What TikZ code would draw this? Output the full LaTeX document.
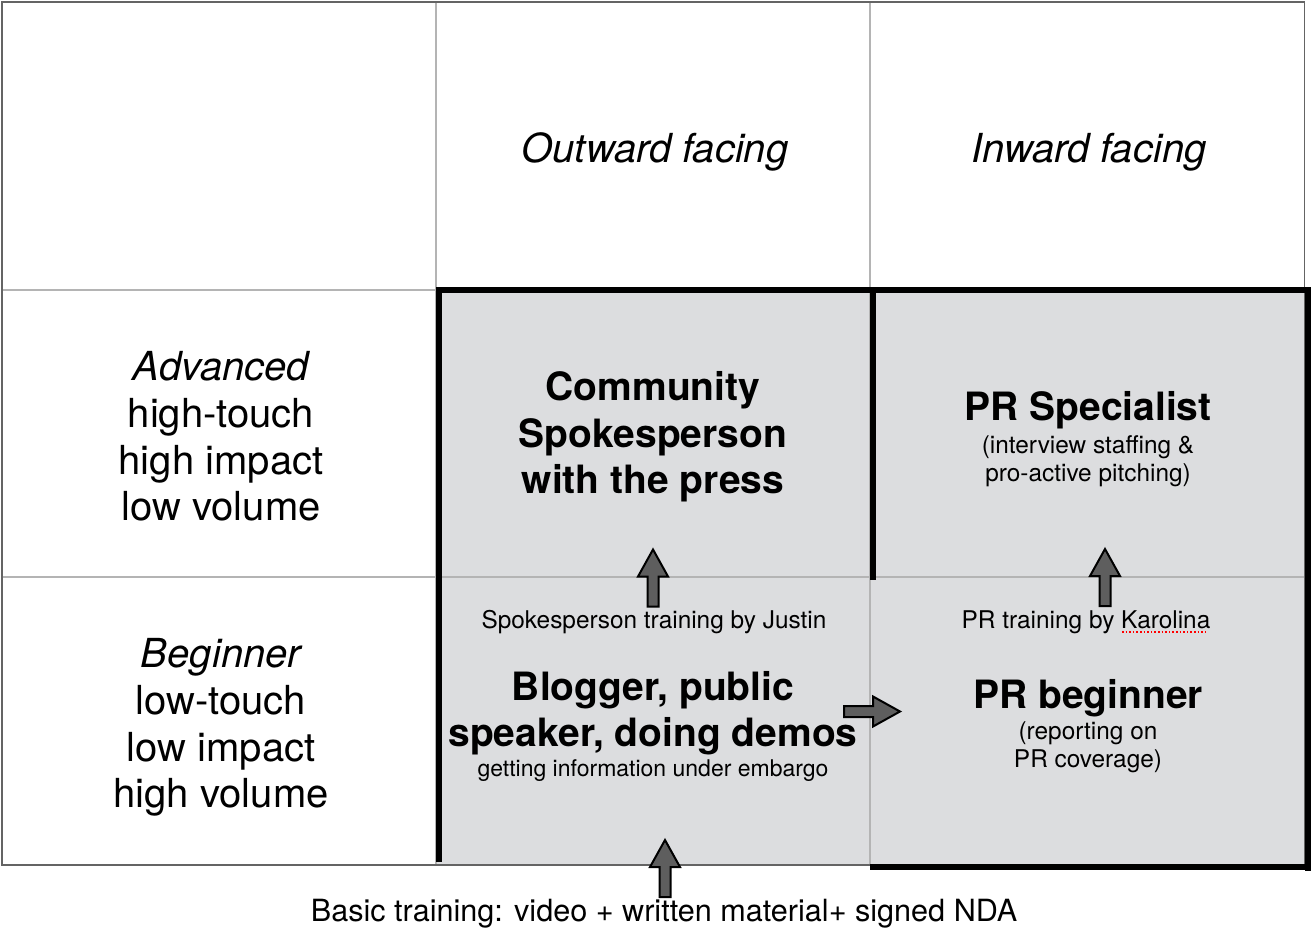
\documentclass[tikz,border=0pt]{standalone}
\usepackage{fontspec}
\setmainfont{TeX Gyre Heros}
\definecolor{cellgrey}{HTML}{DCDDDF}
\definecolor{arrowgrey}{HTML}{5E5E5E}
\definecolor{gridgrey}{HTML}{B4B4B4}
\definecolor{bordergrey}{HTML}{646464}
\newcommand\fsBig{\fontsize{40}{47}\selectfont}
\newcommand\fsBold{\fontsize{39}{46}\selectfont}
\newcommand\fsSmall{\fontsize{24.4}{29}\selectfont}
\newcommand\fsTiny{\fontsize{23}{27}\selectfont}
\newcommand\fsFoot{\fontsize{30.6}{36}\selectfont}
\begin{document}
\begin{tikzpicture}[x=1pt,y=-1pt,
  txt/.style={anchor=base,inner sep=0pt,text=black},
  bigtxt/.style={txt,font=\fsBig},
  bigit/.style={txt,font=\fsBig\itshape},
  bigbf/.style={txt,font=\fsBold\bfseries},
  smalltxt/.style={txt,font=\fsSmall},
  tinytxt/.style={txt,font=\fsTiny},
  foottxt/.style={txt,font=\fsFoot},
  gridline/.style={draw=gridgrey,line width=1.1pt},
  borderline/.style={draw=bordergrey,line width=1.3pt},
  thickline/.style={draw=black,line width=6pt,line cap=butt},
  blockarrow/.style={fill=arrowgrey,draw=black,line width=2pt,line join=miter},
  uparrow/.pic={\path[blockarrow] (0,0) -- (15,27) -- (5.5,27) -- (5.5,57) -- (-5.5,57) -- (-5.5,27) -- (-15,27) -- cycle;},
  rightarrow/.pic={\path[blockarrow] (0,0) -- (-27,-15) -- (-27,-5.5) -- (-56,-5.5) -- (-56,5.5) -- (-27,5.5) -- (-27,15) -- cycle;}
]
\useasboundingbox (0,0) rectangle (1316,934);
\fill[white] (0,0) rectangle (1316,934);

% grey cells
\fill[cellgrey] (436,290) rectangle (1308,866);

% thin grid
\draw[gridline] (436,2) -- (436,865);
\draw[gridline] (870,2) -- (870,865);
\draw[gridline] (2,290) -- (1304.5,290);
\draw[gridline] (2,577) -- (1304.5,577);
\draw[borderline] (2,2) rectangle (1304.5,865);

% thick outlines
\draw[thickline] (439,287) -- (439,862);
\draw[thickline] (436,289.7) -- (1311,289.7);
\draw[thickline] (1308,287) -- (1308,870.5);
\draw[thickline] (873,290) -- (873,580);
\draw[thickline] (870,867.3) -- (1311,867.3);

% arrows
\pic (arrA) at (653,549.5) {uparrow};
\pic (arrB) at (1105,549) {uparrow};
\pic (arrC) at (665,840) {uparrow};
\pic (arrD) at (900,711.5) {rightarrow};

% column headers
\node[bigit] (outw) at (655,162) {Outward facing};
\node[bigit] (inw) at (1089,162) {Inward facing};

% row headers
\node[bigit] (adv1) at (221,380) {Advanced};
\node[bigtxt] (adv2) at (221,427) {high-touch};
\node[bigtxt] (adv3) at (221,474) {high impact};
\node[bigtxt] (adv4) at (221,520.5) {low volume};

\node[bigit] (beg1) at (221,667) {Beginner};
\node[bigtxt] (beg2) at (221,714) {low-touch};
\node[bigtxt] (beg3) at (221,761) {low impact};
\node[bigtxt] (beg4) at (221,807.5) {high volume};

% cells
\node[bigbf] (com1) at (653,400.5) {Community};
\node[bigbf] (com2) at (653,447) {Spokesperson};
\node[bigbf] (com3) at (653,493.5) {with the press};

\node[bigbf] (prs1) at (1088,420.5) {PR Specialist};
\node[smalltxt] (prs2) at (1088,453.5) {(interview staffing \&};
\node[smalltxt] (prs3) at (1088,481.5) {pro-active pitching)};

\node[smalltxt] (sptr) at (654,628.5) {Spokesperson training by Justin};
\node[smalltxt] (prtr) at (1086,628) {PR training by Karolina};
\draw[red,line width=1.6pt,dotted] (1122,632) -- (1208,632);

\node[bigbf] (blg1) at (653,700.5) {Blogger, public};
\node[bigbf] (blg2) at (653,746.5) {speaker, doing demos};
\node[tinytxt] (blg3) at (653,776) {getting information under embargo};

\node[bigbf] (prb1) at (1088,708) {PR beginner};
\node[smalltxt] (prb2) at (1088,739.5) {(reporting on};
\node[smalltxt] (prb3) at (1088,767.5) {PR coverage)};

\node[foottxt] (basic) at (664,921.5) {Basic training: video + written material+ signed NDA};
\end{tikzpicture}
\end{document}
